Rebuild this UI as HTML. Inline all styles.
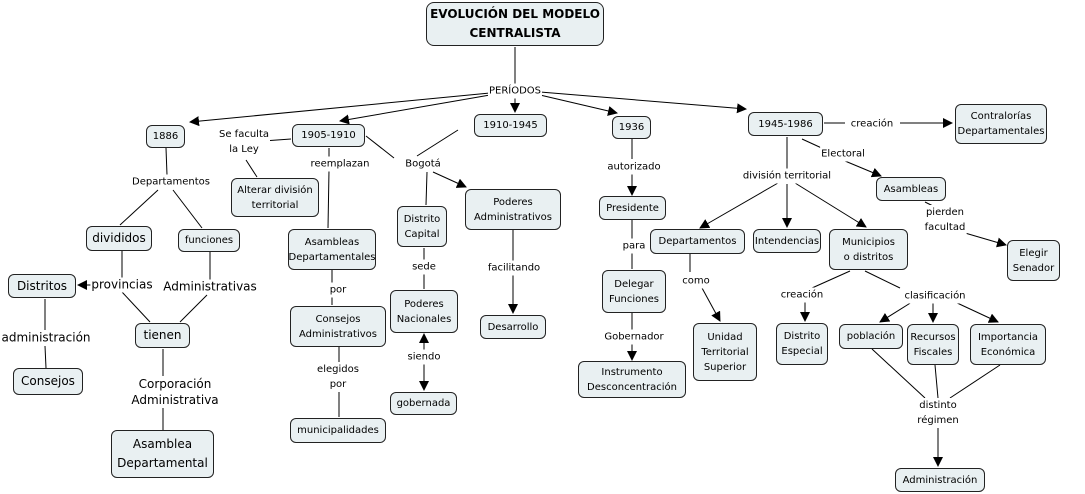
<!DOCTYPE html>
<html><head><meta charset="utf-8"><style>
body{margin:0;width:1085px;height:494px;background:#fff;position:relative;overflow:hidden;font-family:"DejaVu Sans","Liberation Sans",sans-serif;font-size:10px;color:#000}
.n{position:absolute;box-sizing:border-box;background:#e9f0f2;border:1px solid #222;border-radius:6px;display:flex;align-items:center;justify-content:center;text-align:center;line-height:15px}
.l{position:absolute;transform:translate(-50%,-50%);text-align:center;white-space:nowrap;line-height:15px;background:#fff;padding:0 1px}
svg{position:absolute;left:0;top:0}
</style></head><body>
<svg width="1085" height="494">
<defs><marker id="a" markerWidth="10" markerHeight="10" refX="9" refY="5" orient="auto" markerUnits="userSpaceOnUse"><path d="M0,0L10,5L0,10z" fill="#000"/></marker></defs>
<g stroke="#000" stroke-width="1" fill="none">
<line x1="515" y1="47" x2="515" y2="85"/>
<line x1="490" y1="93" x2="190" y2="122" marker-end="url(#a)"/>
<line x1="490" y1="95" x2="340" y2="121" marker-end="url(#a)"/>
<line x1="515" y1="98" x2="515" y2="112" marker-end="url(#a)"/>
<line x1="540" y1="95" x2="617" y2="113" marker-end="url(#a)"/>
<line x1="540" y1="92" x2="746" y2="109" marker-end="url(#a)"/>
<line x1="166" y1="148" x2="167" y2="175"/>
<line x1="158" y1="190" x2="120" y2="225"/>
<line x1="173" y1="190" x2="202" y2="228"/>
<line x1="122" y1="251" x2="122" y2="278"/>
<line x1="103" y1="285" x2="78" y2="285" marker-end="url(#a)"/>
<line x1="122" y1="292" x2="150" y2="322"/>
<line x1="210" y1="252" x2="210" y2="280"/>
<line x1="207" y1="295" x2="180" y2="322"/>
<line x1="45" y1="299" x2="45" y2="330"/>
<line x1="45" y1="346" x2="46" y2="368"/>
<line x1="163" y1="349" x2="163" y2="376"/>
<line x1="163" y1="408" x2="163" y2="430"/>
<line x1="291" y1="139" x2="263" y2="141"/>
<line x1="246" y1="160" x2="257" y2="177"/>
<line x1="329" y1="148" x2="329" y2="157"/>
<line x1="329" y1="170" x2="328" y2="228"/>
<line x1="366" y1="136" x2="394" y2="158"/>
<line x1="458" y1="130" x2="417" y2="156"/>
<line x1="427" y1="172" x2="426" y2="205"/>
<line x1="433" y1="172" x2="466" y2="187" marker-end="url(#a)"/>
<line x1="332" y1="270" x2="332" y2="284"/>
<line x1="332" y1="296" x2="332" y2="305"/>
<line x1="339" y1="347" x2="339" y2="362"/>
<line x1="339" y1="392" x2="339" y2="417"/>
<line x1="424" y1="248" x2="424" y2="260"/>
<line x1="424" y1="274" x2="424" y2="289"/>
<line x1="424" y1="350" x2="424" y2="334" marker-end="url(#a)"/>
<line x1="424" y1="364" x2="424" y2="390" marker-end="url(#a)"/>
<line x1="513" y1="230" x2="513" y2="261"/>
<line x1="513" y1="275" x2="513" y2="313" marker-end="url(#a)"/>
<line x1="632" y1="139" x2="632" y2="159"/>
<line x1="632" y1="174" x2="632" y2="195" marker-end="url(#a)"/>
<line x1="632" y1="220" x2="632" y2="240"/>
<line x1="632" y1="253" x2="632" y2="269"/>
<line x1="632" y1="313" x2="632" y2="330"/>
<line x1="632" y1="344" x2="632" y2="360" marker-end="url(#a)"/>
<line x1="690" y1="254" x2="690" y2="272"/>
<line x1="702" y1="288" x2="720" y2="321" marker-end="url(#a)"/>
<line x1="824" y1="123" x2="845" y2="123"/>
<line x1="900" y1="123" x2="952" y2="123" marker-end="url(#a)"/>
<line x1="787" y1="137" x2="787" y2="170"/>
<line x1="778" y1="183" x2="700" y2="228" marker-end="url(#a)"/>
<line x1="787" y1="184" x2="787" y2="227" marker-end="url(#a)"/>
<line x1="795" y1="183" x2="866" y2="227" marker-end="url(#a)"/>
<line x1="802" y1="139" x2="826" y2="150"/>
<line x1="845" y1="161" x2="881" y2="176" marker-end="url(#a)"/>
<line x1="925" y1="202" x2="937" y2="208"/>
<line x1="965" y1="233" x2="1006" y2="245" marker-end="url(#a)"/>
<line x1="850" y1="271" x2="812" y2="288"/>
<line x1="805" y1="302" x2="805" y2="321" marker-end="url(#a)"/>
<line x1="865" y1="271" x2="900" y2="288"/>
<line x1="912" y1="302" x2="880" y2="322" marker-end="url(#a)"/>
<line x1="933" y1="303" x2="933" y2="322" marker-end="url(#a)"/>
<line x1="955" y1="302" x2="998" y2="322" marker-end="url(#a)"/>
<line x1="872" y1="349" x2="925" y2="398"/>
<line x1="935" y1="365" x2="938" y2="398"/>
<line x1="1000" y1="365" x2="950" y2="398"/>
<line x1="938" y1="428" x2="938" y2="466" marker-end="url(#a)"/>
</g></svg>

<div class="n" style="left:426px;top:2px;width:178px;height:44px;font-weight:bold;font-size:12px;line-height:19px;border-radius:8px">EVOLUCIÓN DEL MODELO<br>CENTRALISTA</div>
<div class="n" style="left:146px;top:125px;width:39px;height:23px">1886</div>
<div class="n" style="left:292px;top:124px;width:73px;height:23px">1905-1910</div>
<div class="n" style="left:474px;top:114px;width:73px;height:23px">1910-1945</div>
<div class="n" style="left:612px;top:116px;width:39px;height:23px">1936</div>
<div class="n" style="left:748px;top:112px;width:75px;height:24px">1945-1986</div>
<div class="n" style="left:955px;top:104px;width:92px;height:40px">Contralorías<br>Departamentales</div>
<div class="n" style="left:231px;top:178px;width:88px;height:39px">Alterar división<br>territorial</div>
<div class="n" style="left:86px;top:226px;width:66px;height:25px;font-size:12px">divididos</div>
<div class="n" style="left:178px;top:229px;width:62px;height:23px">funciones</div>
<div class="n" style="left:288px;top:229px;width:88px;height:41px">Asambleas<br>Departamentales</div>
<div class="n" style="left:397px;top:206px;width:50px;height:41px">Distrito<br>Capital</div>
<div class="n" style="left:465px;top:189px;width:96px;height:41px">Poderes<br>Administrativos</div>
<div class="n" style="left:599px;top:196px;width:67px;height:24px">Presidente</div>
<div class="n" style="left:650px;top:229px;width:95px;height:25px">Departamentos</div>
<div class="n" style="left:753px;top:229px;width:68px;height:24px">Intendencias</div>
<div class="n" style="left:829px;top:229px;width:79px;height:41px">Municipios<br>o distritos</div>
<div class="n" style="left:876px;top:177px;width:70px;height:24px">Asambleas</div>
<div class="n" style="left:1007px;top:240px;width:53px;height:41px">Elegir<br>Senador</div>
<div class="n" style="left:8px;top:274px;width:68px;height:24px;font-size:12px">Distritos</div>
<div class="n" style="left:135px;top:323px;width:55px;height:25px;font-size:12px">tienen</div>
<div class="n" style="left:13px;top:368px;width:70px;height:27px;font-size:12px">Consejos</div>
<div class="n" style="left:111px;top:430px;width:103px;height:48px;font-size:12px;line-height:19px">Asamblea<br>Departamental</div>
<div class="n" style="left:290px;top:306px;width:96px;height:41px">Consejos<br>Administrativos</div>
<div class="n" style="left:390px;top:290px;width:68px;height:43px">Poderes<br>Nacionales</div>
<div class="n" style="left:390px;top:392px;width:67px;height:23px">gobernada</div>
<div class="n" style="left:290px;top:418px;width:96px;height:25px">municipalidades</div>
<div class="n" style="left:480px;top:315px;width:66px;height:24px">Desarrollo</div>
<div class="n" style="left:602px;top:270px;width:64px;height:43px">Delegar<br>Funciones</div>
<div class="n" style="left:578px;top:361px;width:108px;height:37px">Instrumento<br>Desconcentración</div>
<div class="n" style="left:693px;top:323px;width:64px;height:58px">Unidad<br>Territorial<br>Superior</div>
<div class="n" style="left:776px;top:323px;width:52px;height:42px">Distrito<br>Especial</div>
<div class="n" style="left:839px;top:324px;width:64px;height:25px">población</div>
<div class="n" style="left:907px;top:324px;width:52px;height:41px">Recursos<br>Fiscales</div>
<div class="n" style="left:970px;top:324px;width:76px;height:41px">Importancia<br>Económica</div>
<div class="n" style="left:895px;top:468px;width:90px;height:24px">Administración</div>

<div class="l" style="left:515px;top:91px">PERÍODOS</div>
<div class="l" style="left:244px;top:142px;line-height:15px">Se faculta<br>la Ley</div>
<div class="l" style="left:340px;top:164px">reemplazan</div>
<div class="l" style="left:423px;top:164px">Bogotá</div>
<div class="l" style="left:171px;top:182px">Departamentos</div>
<div class="l" style="left:122px;top:285px;font-size:12px">provincias</div>
<div class="l" style="left:210px;top:287px;font-size:12px">Administrativas</div>
<div class="l" style="left:46px;top:338px;font-size:12px">administración</div>
<div class="l" style="left:175px;top:392px;font-size:12px;line-height:16px">Corporación<br>Administrativa</div>
<div class="l" style="left:338px;top:290px">por</div>
<div class="l" style="left:338px;top:377px;line-height:15px">elegidos<br>por</div>
<div class="l" style="left:424px;top:267px">sede</div>
<div class="l" style="left:424px;top:357px">siendo</div>
<div class="l" style="left:514px;top:268px">facilitando</div>
<div class="l" style="left:634px;top:167px">autorizado</div>
<div class="l" style="left:634px;top:246px">para</div>
<div class="l" style="left:634px;top:337px">Gobernador</div>
<div class="l" style="left:696px;top:281px">como</div>
<div class="l" style="left:787px;top:176px">división territorial</div>
<div class="l" style="left:872px;top:124px">creación</div>
<div class="l" style="left:843px;top:154px">Electoral</div>
<div class="l" style="left:945px;top:220px;line-height:15px">pierden<br>facultad</div>
<div class="l" style="left:802px;top:295px">creación</div>
<div class="l" style="left:935px;top:296px">clasificación</div>
<div class="l" style="left:938px;top:413px;line-height:15px">distinto<br>régimen</div>
</body></html>
